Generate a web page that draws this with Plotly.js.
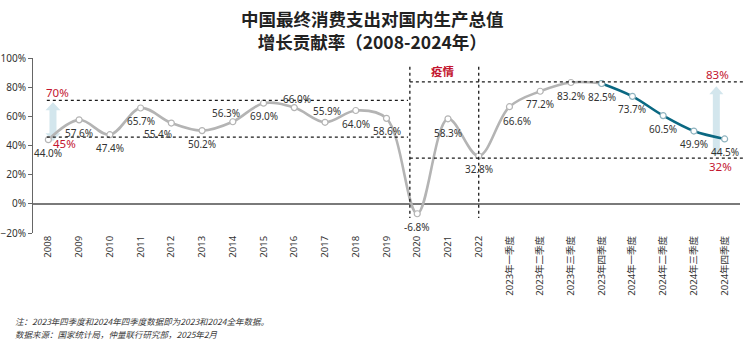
<!DOCTYPE html>
<html>
<head>
<meta charset="utf-8">
<script src="https://cdn.plot.ly/plotly-3.0.1.min.js"></script>
<style>html,body{margin:0;padding:0;background:#fff;}#chart{width:744px;height:351px;}</style>
</head>
<body>
<div id="chart"></div>
<script>
// ---- data ----
const categories = ['2008','2009','2010','2011','2012','2013','2014','2015','2016','2017','2018','2019','2020','2021','2022',
  '2023年一季度','2023年二季度','2023年三季度','2023年四季度','2024年一季度','2024年二季度','2024年三季度','2024年四季度'];
const values = [44.0,57.6,47.4,65.7,55.4,50.2,56.3,69.0,66.0,55.9,64.0,58.6,-6.8,58.3,32.8,66.6,77.2,83.2,82.5,73.7,60.5,49.9,44.5];
const splitIndex = 18; // 2023年四季度: start of highlighted segment
const bandLeft = [45, 70];   // 2008-2019 range
const bandRight = [32, 83];  // 2020-2024 range
const covidLabel = '疫情';
const titleText = '中国最终消费支出对国内生产总值<br>增长贡献率（2008-2024年）';
const noteLines = ['注：2023年四季度和2024年四季度数据即为2023和2024全年数据。',
                   '数据来源：国家统计局，仲量联行研究部，2025年2月'];

// label offsets (px) for value labels
const labelShift = values.map(() => [0, -13]);
labelShift[4] = [-13, -11];
labelShift[6] = [-7, 9];
labelShift[8] = [3, 9];
labelShift[9] = [2, 11];
labelShift[15] = [8, -14];
labelShift[13] = [0, -14];

// ---- geometry helpers ----
const W = 744, H = 351, ML = 33, MR = 4, MT = 58, MB = 118;
const PW = W - ML - MR, PH = H - MT - MB;
const N = categories.length;
const YMIN = -20, YMAX = 100;
const idx = categories.map((c, i) => i);
const pX = i => ML + (i + 0.5) * PW / N;
const pY = v => MT + (YMAX - v) * PH / (YMAX - YMIN);
const toPaper = (px, py) => [(px - ML) / PW, (MT + PH - py) / PH];

function arrowPath(cx, yTop, yBot, shaftHalf, headHalf, headLen, dbl) {
  const pts = [];
  const t = pY(yTop), b = pY(yBot);
  pts.push([cx, t]);
  pts.push([cx + headHalf, t + headLen]);
  pts.push([cx + shaftHalf, t + headLen]);
  if (dbl) {
    pts.push([cx + shaftHalf, b - headLen]);
    pts.push([cx + headHalf, b - headLen]);
    pts.push([cx, b]);
    pts.push([cx - headHalf, b - headLen]);
    pts.push([cx - shaftHalf, b - headLen]);
  } else {
    pts.push([cx + shaftHalf, b]);
    pts.push([cx - shaftHalf, b]);
  }
  pts.push([cx - shaftHalf, t + headLen]);
  pts.push([cx - headHalf, t + headLen]);
  return 'M' + pts.map(p => toPaper(p[0], p[1]).map(v => v.toFixed(5)).join(',')).join(' L') + ' Z';
}

const grey = '#b4b4b4', teal = '#0a6882', red = '#c3152f', arrowCol = '#d3e6ed';
const numFont = 'Noto Sans, Noto Sans CJK SC, sans-serif';

const traceGrey = {
  x: categories.slice(0, splitIndex + 1), y: values.slice(0, splitIndex + 1),
  type: 'scatter', mode: 'lines+markers',
  line: {color: grey, width: 2.6, shape: 'spline', smoothing: 1},
  marker: {size: 6, color: '#ffffff', line: {color: grey, width: 1.2}},
  hoverinfo: 'skip'
};
const traceTeal = {
  x: categories.slice(splitIndex), y: values.slice(splitIndex),
  type: 'scatter', mode: 'lines+markers',
  line: {color: teal, width: 2.6, shape: 'spline', smoothing: 1},
  marker: {size: 6, color: '#ffffff', line: {color: '#8fb3bf', width: 1.2}},
  hoverinfo: 'skip'
};

const dash = {color: '#1a1a1a', width: 1.3, dash: '3px,3px'};
const covidStart = 11.76, covidEnd = 14;
const shapes = [
  {type: 'path', xref: 'paper', yref: 'paper', layer: 'below', line: {width: 0}, fillcolor: arrowCol,
   path: arrowPath(pX(0.15), 69.6, 43, 3.5, 7.5, 8, true)},
  {type: 'path', xref: 'paper', yref: 'paper', layer: 'below', line: {width: 0}, fillcolor: arrowCol,
   path: arrowPath(pX(21.73), 80.6, 33.5, 3.5, 7, 8, false)},
  {type: 'line', xref: 'x', yref: 'y', x0: -0.05, x1: 11.7, y0: 71, y1: 71, line: dash},
  {type: 'line', xref: 'x', yref: 'y', x0: -0.05, x1: 11.7, y0: 45.8, y1: 45.8, line: dash},
  {type: 'line', xref: 'x', yref: 'y', x0: covidStart, x1: covidStart, y0: 94, y1: -9.7, line: dash},
  {type: 'line', xref: 'x', yref: 'y', x0: covidEnd, x1: covidEnd, y0: 94, y1: -9.7, line: dash},
  {type: 'line', xref: 'paper', yref: 'y', x0: (pX(covidStart) - ML) / PW, x1: (W - ML) / PW, y0: 83.6, y1: 83.6, line: dash},
  {type: 'line', xref: 'paper', yref: 'y', x0: (pX(covidStart) - ML) / PW, x1: (W - ML) / PW, y0: 31.3, y1: 31.3, line: dash}
];

const annotations = values.map((v, i) => ({
  x: idx[i], y: v, xref: 'x', yref: 'y', text: v.toFixed(1) + '%', showarrow: false,
  xshift: labelShift[i][0], yshift: labelShift[i][1],
  font: {family: numFont, size: 10, color: '#333333'}
}));
const redFont = {family: numFont, size: 11.5, color: red};
annotations.push(
  {x: 0.31, y: 76.6, xref: 'x', yref: 'y', text: bandLeft[1] + '%', showarrow: false, font: redFont},
  {x: 0.54, y: 41.6, xref: 'x', yref: 'y', text: bandLeft[0] + '%', showarrow: false, font: redFont},
  {x: 21.78, y: 88.7, xref: 'x', yref: 'y', text: bandRight[1] + '%', showarrow: false, font: redFont},
  {x: 21.85, y: 25.4, xref: 'x', yref: 'y', text: bandRight[0] + '%', showarrow: false, font: redFont},
  {x: 12.84, y: 91.4, xref: 'x', yref: 'y', text: covidLabel, showarrow: false,
   font: {family: 'Noto Sans CJK SC, sans-serif', size: 11.5, color: red, weight: 600}}
);
// title
annotations.push({xref: 'paper', yref: 'paper', x: (372 - ML) / PW, y: (MT + PH - 29.5) / PH,
  xanchor: 'center', yanchor: 'middle', showarrow: false, text: titleText,
  font: {family: 'Noto Sans CJK SC, sans-serif', size: 17.5, color: '#222222', weight: 700}});
noteLines.forEach((t, k) => annotations.push({
  xref: 'paper', yref: 'paper', x: (13 - ML) / PW, y: (MT + PH - (321 + 12.5 * k)) / PH,
  xanchor: 'left', yanchor: 'middle', showarrow: false, text: '<i>' + t + '</i>',
  font: {family: 'Noto Sans CJK SC, sans-serif', size: 8.5, color: '#3a3a3a'}
}));

const layout = {
  width: W, height: H,
  margin: {l: ML, r: MR, t: MT, b: MB, pad: 0},
  paper_bgcolor: '#ffffff', plot_bgcolor: '#ffffff',
  showlegend: false,
  xaxis: {type: 'category', range: [-0.5, N - 0.5], showgrid: false, zeroline: false, showline: false,
    ticks: '', tickangle: -90, tickfont: {family: numFont, size: 9.5, color: '#333333'}, fixedrange: true},
  yaxis: {range: [YMIN, YMAX], dtick: 20, tick0: 0, ticksuffix: '%', showgrid: false,
    zeroline: true, zerolinecolor: '#7a7a7a', zerolinewidth: 1.5,
    showline: true, linecolor: '#666666', linewidth: 1, ticks: 'outside', ticklen: 4, tickcolor: '#666666',
    tickfont: {family: numFont, size: 10, color: '#333333'}, fixedrange: true},
  shapes: shapes,
  annotations: annotations
};

Plotly.newPlot('chart', [traceGrey, traceTeal], layout, {displayModeBar: false, staticPlot: true});
</script>
</body>
</html>
